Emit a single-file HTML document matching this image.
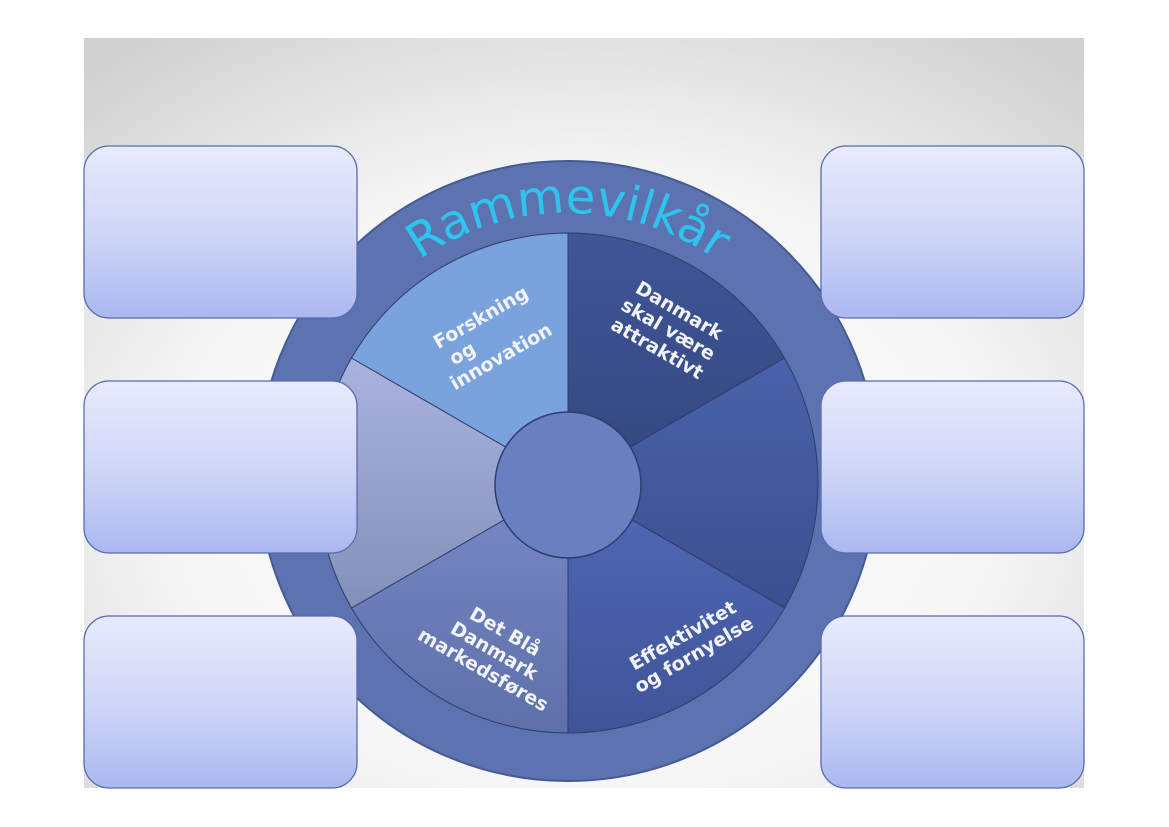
<!DOCTYPE html>
<html><head><meta charset="utf-8"><style>
html,body{margin:0;padding:0;background:#fff;}
svg{display:block;}
</style></head><body>
<svg width="1169" height="827" viewBox="0 0 1169 827" xmlns="http://www.w3.org/2000/svg">
<defs>
<radialGradient id="bg" cx="50%" cy="60%" r="75%">
<stop offset="0" stop-color="#ffffff"/><stop offset="0.55" stop-color="#f6f6f6"/><stop offset="1" stop-color="#d0d0d0"/>
</radialGradient>
<linearGradient id="box" x1="0" y1="0" x2="0" y2="1">
<stop offset="0" stop-color="#e8ebfc"/><stop offset="0.5" stop-color="#d0d7f7"/><stop offset="1" stop-color="#aab8f0"/>
</linearGradient>
<linearGradient id="lg" x1="0" y1="0" x2="0" y2="1">
<stop offset="0" stop-color="#aab3df"/><stop offset="1" stop-color="#8290b8"/>
</linearGradient>
<linearGradient id="bl" x1="0" y1="0" x2="0" y2="1">
<stop offset="0" stop-color="#7789c8"/><stop offset="1" stop-color="#5e70a8"/>
</linearGradient>
<linearGradient id="dr" x1="0" y1="0" x2="0" y2="1">
<stop offset="0" stop-color="#3f5596"/><stop offset="1" stop-color="#34477f"/>
</linearGradient>
<linearGradient id="rr" x1="0" y1="0" x2="0" y2="1">
<stop offset="0" stop-color="#4a62aa"/><stop offset="1" stop-color="#3a4f8e"/>
</linearGradient>
<linearGradient id="br" x1="0" y1="0" x2="0" y2="1">
<stop offset="0" stop-color="#5069b6"/><stop offset="1" stop-color="#3f5498"/>
</linearGradient>
<path id="arc" d="M 310 471 A 258 258 0 0 1 826 471"/>
</defs>
<rect x="84" y="38" width="1000" height="750" fill="url(#bg)"/>
<circle cx="568" cy="471" r="310" fill="#5c73b0" stroke="#455a96" stroke-width="2"/>
<text font-family="DejaVu Sans, sans-serif" font-size="48" fill="#2ec4f0"><textPath href="#arc" startOffset="50%" text-anchor="middle">Rammevilkår</textPath></text>
<g stroke="#2e3d6e" stroke-width="1">
<path d="M568 483 L568 233 A250 250 0 0 1 784.5 358 Z" fill="url(#dr)"/>
<path d="M568 483 L784.5 358 A250 250 0 0 1 784.5 608 Z" fill="url(#rr)"/>
<path d="M568 483 L784.5 608 A250 250 0 0 1 568 733 Z" fill="url(#br)"/>
<path d="M568 483 L568 733 A250 250 0 0 1 351.5 608 Z" fill="url(#bl)"/>
<path d="M568 483 L351.5 608 A250 250 0 0 1 351.5 358 Z" fill="url(#lg)"/>
<path d="M568 483 L351.5 358 A250 250 0 0 1 568 233 Z" fill="#7aa2dd"/>
</g>
<circle cx="568" cy="485" r="73" fill="#6880c0" stroke="#2e3d6e" stroke-width="1.5"/>
<g font-family="DejaVu Sans, sans-serif" font-weight="bold" font-size="19" fill="#f2f4fa" text-anchor="middle">
<text transform="translate(495,342) rotate(-30)"><tspan x="0" y="-22">Forskning</tspan><tspan x="-34" y="0">og</tspan><tspan x="-2" y="22">innovation</tspan></text>
<text transform="translate(665,335) rotate(30)"><tspan x="0" y="-22">Danmark</tspan><tspan x="0" y="0">skal være</tspan><tspan x="0" y="22">attraktivt</tspan></text>
<text transform="translate(490,658) rotate(30)"><tspan x="0" y="-24">Det Blå</tspan><tspan x="0" y="-2">Danmark</tspan><tspan x="0" y="20">markedsføres</tspan></text>
<text transform="translate(690,648) rotate(-30)"><tspan x="0" y="-8">Effektivitet</tspan><tspan x="0" y="14">og fornyelse</tspan></text>
</g>
<g fill="url(#box)" stroke="#5a6aae" stroke-width="1.3">
<rect x="84" y="146" width="273" height="172" rx="25"/>
<rect x="84" y="381" width="273" height="172" rx="25"/>
<rect x="84" y="616" width="273" height="172" rx="25"/>
<rect x="821" y="146" width="263" height="172" rx="25"/>
<rect x="821" y="381" width="263" height="172" rx="25"/>
<rect x="821" y="616" width="263" height="172" rx="25"/>
</g>
</svg>
</body></html>
